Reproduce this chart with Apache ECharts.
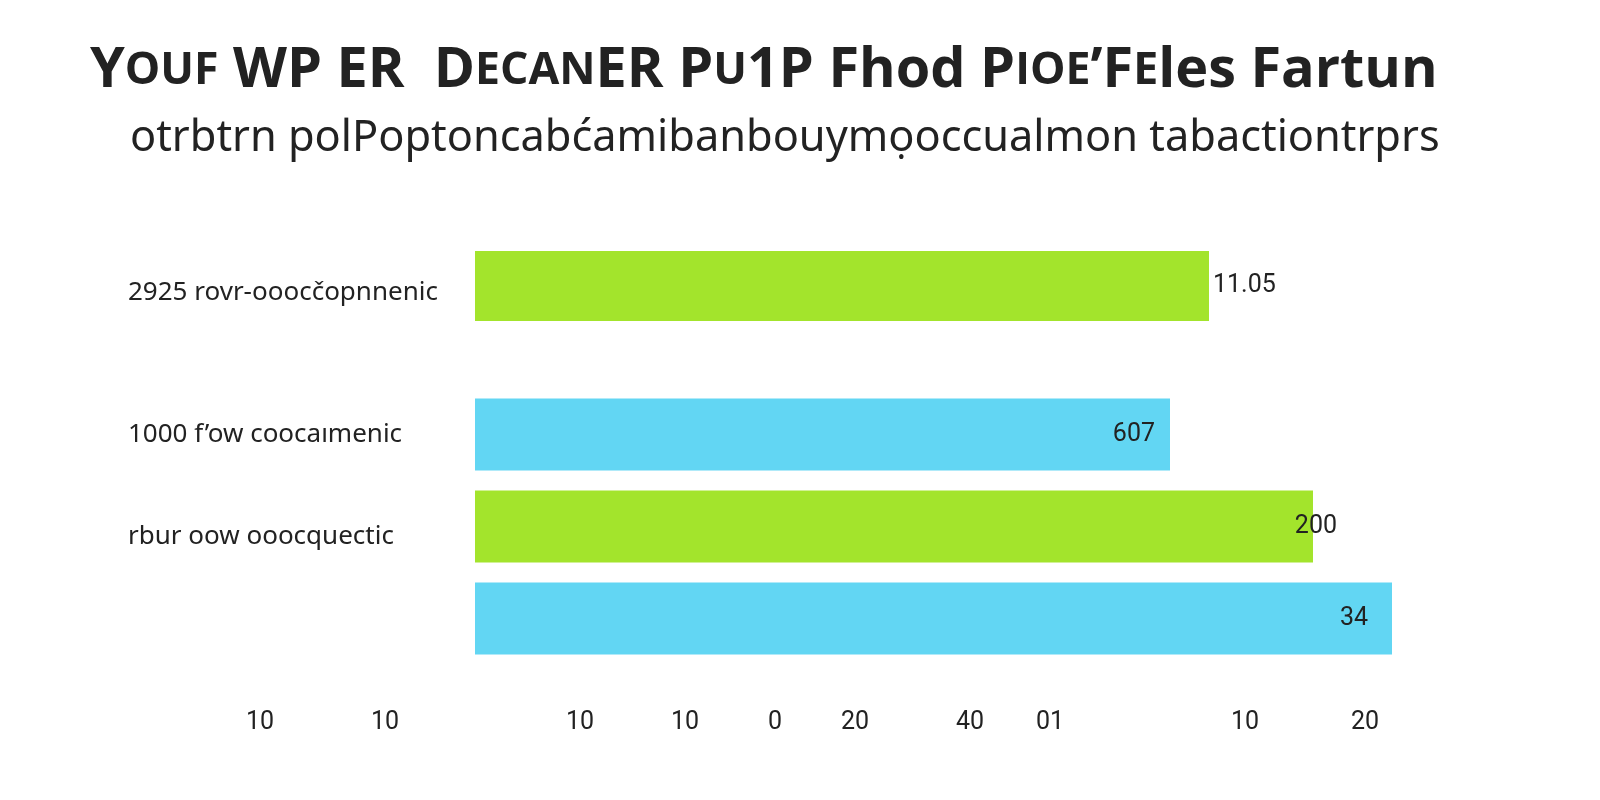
<!DOCTYPE html>
<html>
<head>
<meta charset="utf-8">
<script src="https://cdn.jsdelivr.net/npm/echarts@6/dist/echarts.min.js"></script>
<style>
html,body{margin:0;padding:0;background:#fff;}
#chart{width:1600px;height:800px;}
</style>
</head>
<body>
<div id="chart"></div>
<script>
// ---- data ----
const categories = ['2925 rovr-ooocčopnnenic', '1000 f\u2019ow coocaımenic', 'rbur oow ooocquectic', ''];
const values = [146.8, 139, 167.6, 183.4];
const valueLabels = ['11.05', '607', '200', '34'];
const tickValues = [-43, -18, 21, 42, 60, 76, 99, 115, 154, 178];
const tickLabels = ['10', '10', '10', '10', '0', '20', '40', '01', '10', '20'];
const titleSegments = [
  ['Y', 'b'], ['OUF', 's'], [' WP ER  ', 'b'], ['D', 'b'], ['ECAN', 's'], ['ER P', 'b'], ['U', 's'],
  ['1P Fhod P', 'b'], ['IOE', 's'], ['\u2019F', 'b'], ['E', 's'], ['les Fartun', 'b']
];
const subtitleText = 'otrbtrn polPoptoncabćamibanbouymọoccualmon tabactiontrprs';

// ---- styling helpers ----
const GREEN = '#A3E42C';
const BLUE = '#62D6F3';
const TXT = '#222222';
const titleFamily = '"Open Sans", "Noto Sans", sans-serif';
const subFamily = '"Noto Sans", sans-serif';
const cv = document.createElement('canvas').getContext('2d');
function measure(text, size, weight, family) {
  cv.font = weight + ' ' + size + 'px ' + family;
  return cv.measureText(text).width;
}
const smallRatio = 0.8;
let tw100 = 0;
titleSegments.forEach(([t, k]) => { tw100 += measure(t, k === 's' ? 100 * smallRatio : 100, 'bold', titleFamily); });
const titleSize = 100 * 1348 / tw100;
const subSize = 100 * 1310 / measure(subtitleText, 100, 'normal', subFamily);

const titleRich = titleSegments.map(([t, k]) => '{' + k + '|' + t + '}').join('');

const colorsTop = [GREEN];
const colorsMain = [BLUE, GREEN, BLUE];
const labelCfg = [
  { position: 'right', distance: 4 },
  { position: 'insideRight', distance: 15 },
  { position: 'insideRight', distance: -24 },
  { position: 'insideRight', distance: 24 }
];
const catPadTop = [14, 0, 20, 0];
const catRich = {};
catPadTop.forEach((p, i) => {
  catRich['c' + i] = { padding: [p, 0, 0, 0], color: TXT, fontFamily: subFamily, fontSize: 26, align: 'left' };
});

function barData(idxs, colors) {
  return idxs.map((i, j) => ({
    value: values[i],
    itemStyle: { color: colors[j] },
    label: Object.assign({ show: true, formatter: valueLabels[i] }, labelCfg[i])
  }));
}
function catLabel(v) {
  const i = categories.indexOf(v);
  return v ? '{c' + i + '|' + v + '}' : '';
}

const xCommon = {
  type: 'value', min: -50, max: 190, interval: 1,
  axisLine: { show: false }, axisTick: { show: false }, splitLine: { show: false }
};
const yLabel = { align: 'left', margin: 97, color: TXT, fontFamily: subFamily, fontSize: 26, formatter: catLabel, rich: catRich };

const chart = echarts.init(document.getElementById('chart'), null, { renderer: 'canvas' });
chart.setOption({
  backgroundColor: '#ffffff',
  animation: false,
  title: [
    {
      text: titleRich, left: 85, top: 38,
      textStyle: {
        rich: {
          b: { fontFamily: titleFamily, fontWeight: 'bold', fontSize: titleSize, color: TXT },
          s: { fontFamily: titleFamily, fontWeight: 'bold', fontSize: titleSize * smallRatio, color: TXT }
        }
      }
    },
    {
      text: subtitleText, left: 125, top: 112,
      textStyle: { fontFamily: subFamily, fontWeight: 'normal', fontSize: subSize, color: TXT }
    }
  ],
  grid: [
    { left: 225, width: 1200, top: 241, height: 90, containLabel: false, outerBoundsMode: 'none' },
    { left: 225, width: 1200, top: 388.5, height: 276, containLabel: false, outerBoundsMode: 'none' }
  ],
  xAxis: [
    Object.assign({ gridIndex: 0, axisLabel: { show: false } }, xCommon),
    Object.assign({ gridIndex: 1, axisLabel: {
      show: true, margin: 46, color: TXT, fontFamily: 'Roboto, sans-serif', fontSize: 25,
      formatter: v => { const k = tickValues.indexOf(Math.round(v)); return (k >= 0 && Math.abs(v - Math.round(v)) < 1e-6) ? tickLabels[k] : ''; }
    } }, xCommon)
  ],
  yAxis: [
    {
      gridIndex: 0, type: 'category', inverse: true, data: categories.slice(0, 1),
      axisLine: { show: false }, axisTick: { show: false }, axisLabel: yLabel
    },
    {
      gridIndex: 1, type: 'category', inverse: true, data: categories.slice(1),
      axisLine: { show: false }, axisTick: { show: false }, axisLabel: yLabel
    }
  ],
  series: [
    {
      type: 'bar', xAxisIndex: 0, yAxisIndex: 0, barWidth: 70,
      label: { color: TXT, fontFamily: 'Roboto, sans-serif', fontSize: 25 },
      data: barData([0], colorsTop)
    },
    {
      type: 'bar', xAxisIndex: 1, yAxisIndex: 1, barWidth: 72,
      label: { color: TXT, fontFamily: 'Roboto, sans-serif', fontSize: 25 },
      data: barData([1, 2, 3], colorsMain)
    }
  ]
});
</script>
</body>
</html>
